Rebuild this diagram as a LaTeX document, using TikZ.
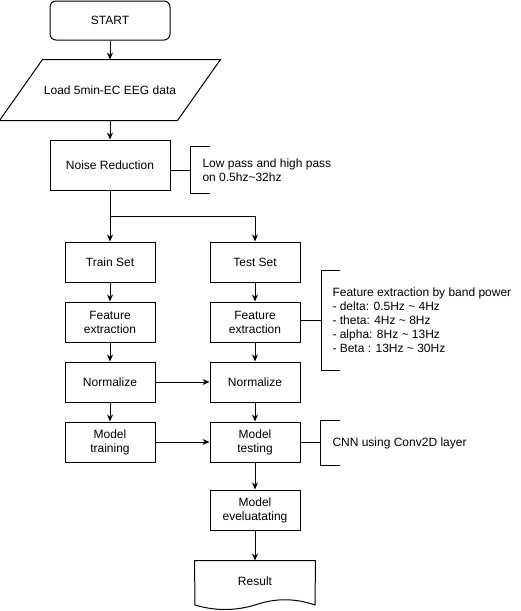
\documentclass[tikz,border=0pt]{standalone}
\usepackage{fontspec}
\setmainfont{Liberation Sans}
\usepackage{tikz}
\usetikzlibrary{positioning}
\usetikzlibrary{arrows.meta}

\begin{document}
\begin{tikzpicture}[x=1pt, y=-1pt, line width=1pt, >={Stealth[length=7pt, width=6pt]},
			font=\fontsize{12}{14}\selectfont,
			stepbox/.style={draw, minimum width=90pt, minimum height=40pt, align=center, inner sep=0pt},
			notebox/.style={anchor=west, align=left, inner xsep=12pt, inner ysep=0pt}]
			    		\useasboundingbox (0,0) rectangle (521,611);
			    		\node[draw, rounded corners=6pt, minimum width=120pt, minimum height=39pt] (start) at (110,20.5) {START};
			    		\node[minimum width=220pt, minimum height=60pt] (load) at (110,90) {Load 5min-EC EEG data};
			    		\draw ([xshift=43pt]load.north west) -- (load.north east) -- ([xshift=-43pt]load.south east) -- (load.south west) -- cycle;
			    		\node[stepbox, minimum width=120pt, minimum height=50pt] (noise) at (110,165) {Noise Reduction};
			    		\coordinate (split) at (110,216);
			    		\node[stepbox] (train) at (110,262) {Train Set};
			    		\node[stepbox] (test) at (255,262) {Test Set};
			    		\node[stepbox] (trainfeat) at (110,322) {Feature\\extraction};
			    		\node[stepbox] (testfeat) at (255,322) {Feature\\extraction};
			    		\node[stepbox] (trainnorm) at (110,382) {Normalize};
			    		\node[stepbox] (testnorm) at (255,382) {Normalize};
			    		\node[stepbox] (trainmodel) at (110,442) {Model\\training};
			    		\node[stepbox] (testmodel) at (255,442) {Model\\testing};
			    		\node[stepbox] (eval) at (255,510) {Model\\eveluatating};
			    		\node[minimum width=120pt, minimum height=40pt] (result) at (255,581) {Result};
			    		\draw (result.north west) -- (result.north east) -- (315,605) .. controls (295,598) and (275,598) .. (255,605) .. controls (235,611) and (215,611) .. (195,605) -- cycle;
			    		\node[notebox, minimum height=46pt] (lpnote) at (190,170) {Low pass and high pass\\on 0.5hz\textasciitilde32hz};
			    		\node[notebox, minimum height=99pt, inner xsep=11pt] (bandnote) at (321,320.5) {Feature extraction by band power\\- delta: 0.5Hz \textasciitilde{} 4Hz\\- theta: 4Hz \textasciitilde{} 8Hz\\- alpha: 8Hz \textasciitilde{} 13Hz\\- Beta : 13Hz \textasciitilde{} 30Hz};
			    		\node[notebox, minimum height=44pt] (cnnnote) at (320,443) {CNN using Conv2D layer};
			    		\draw ([xshift=20pt]lpnote.north west) -- (lpnote.north west) -- (lpnote.south west) -- ([xshift=20pt]lpnote.south west);
			    		\draw ([xshift=19pt]bandnote.north west) -- (bandnote.north west) -- (bandnote.south west) -- ([xshift=19pt]bandnote.south west);
			    		\draw ([xshift=20pt]cnnnote.north west) -- (cnnnote.north west) -- (cnnnote.south west) -- ([xshift=20pt]cnnnote.south west);
			    		\draw[->] (start) -- (load);
			    		\draw[->] (load) -- (noise);
			    		\draw[->] (noise) -- (train);
			    		\draw[->] (split) -| (test);
			    		\draw[->] (train) -- (trainfeat);
			    		\draw[->] (test) -- (testfeat);
			    		\draw[->] (trainfeat) -- (trainnorm);
			    		\draw[->] (testfeat) -- (testnorm);
			    		\draw[->] (trainnorm) -- (testnorm);
			    		\draw[->] (trainnorm) -- (trainmodel);
			    		\draw[->] (testnorm) -- (testmodel);
			    		\draw[->] (trainmodel) -- (testmodel);
			    		\draw[->] (testmodel) -- (eval);
			    		\draw[->] (eval) -- (result);
			    		\draw (noise.east |- lpnote.west) -- (lpnote.west);
			    		\draw (testfeat.east |- bandnote.west) -- (bandnote.west);
			    		\draw (testmodel.east) -- (testmodel.east -| cnnnote.west);
			    	\end{tikzpicture}
\end{document}
